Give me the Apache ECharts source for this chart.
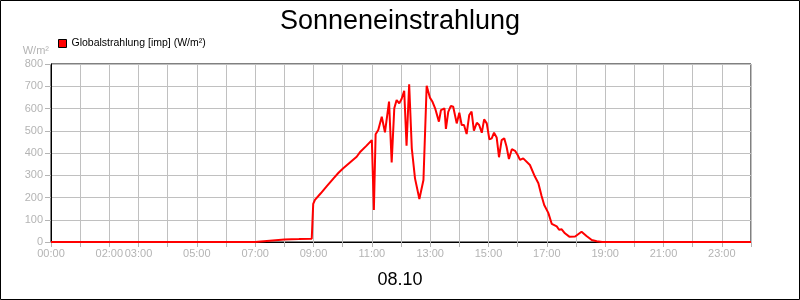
<!DOCTYPE html>
<html>
<head>
<meta charset="utf-8">
<script src="https://cdn.jsdelivr.net/npm/echarts@6/dist/echarts.min.js"></script>
<style>
html,body{margin:0;padding:0;background:#fff;}
#chart{width:800px;height:300px;}
</style>
</head>
<body>
<div id="chart"></div>
<script>
const titleText = 'Sonneneinstrahlung';
const dateText = '08.10';
const seriesName = 'Globalstrahlung [imp] (W/m²)';
const yUnit = 'W/m²';
const labelHours = [0, 2, 3, 5, 7, 9, 11, 13, 15, 17, 19, 21, 23];
const hours = [
  0, 7.0, 7.5, 8.0, 8.5, 8.94, 8.99, 9.05, 9.25, 9.45, 9.68, 9.85, 10.02, 10.25, 10.48, 10.59, 10.82,
  11.0, 11.07, 11.13, 11.22, 11.34, 11.45, 11.5, 11.59, 11.68, 11.77, 11.85, 11.94, 12.02, 12.11,
  12.19, 12.28, 12.37, 12.48, 12.63, 12.77, 12.88, 12.99, 13.08, 13.17, 13.30, 13.37, 13.49, 13.54,
  13.62, 13.71, 13.79, 13.85, 13.91, 14.0, 14.08, 14.16, 14.25, 14.34, 14.42, 14.50, 14.60, 14.68,
  14.77, 14.85, 14.94, 15.03, 15.11, 15.19, 15.28, 15.36, 15.45, 15.54, 15.62, 15.70, 15.80, 15.91,
  16.0, 16.08, 16.19, 16.42, 16.59, 16.71, 16.82, 16.91, 17.05, 17.17, 17.34, 17.42, 17.51, 17.62,
  17.77, 17.97, 18.19, 18.36, 18.54, 18.71, 18.9, 24
];
const values = [
  0, 0, 6, 11, 13, 15, 171, 189, 219, 250, 285, 310, 331, 357, 383, 403, 433,
  458, 144, 484, 503, 563, 493, 496, 631, 358, 601, 638, 623, 643, 680,
  433, 709, 421, 286, 193, 279, 702, 649, 630, 601, 541, 593, 601, 508,
  585, 612, 608, 605, 533, 581, 526, 526, 485, 571, 586, 500, 536, 526,
  491, 551, 533, 461, 466, 491, 470, 381, 458, 466, 428, 373, 417, 410,
  391, 369, 376, 346, 294, 264, 207, 166, 131, 81, 70, 55, 57, 39,
  24, 25, 46, 27, 9, 3, 0, 0
];

const data = hours.map((h, i) => [h, values[i]]);
const pad = n => (n < 10 ? '0' : '') + n;
const font = 'Arial, "Liberation Sans", sans-serif';
const gray = '#b4b4b4';

const chart = echarts.init(document.getElementById('chart'), null, {renderer: 'canvas'});
chart.setOption({
  backgroundColor: '#fff',
  animation: false,
  title: [
    {text: titleText, left: 'center', top: 3,
     textStyle: {fontFamily: font, fontSize: 27, fontWeight: 'normal', color: '#000'}},
    {text: dateText, left: 'center', top: 266,
     textStyle: {fontFamily: font, fontSize: 18, fontWeight: 'normal', color: '#000'}}
  ],
  legend: {
    left: 58, top: 38, padding: 0, itemWidth: 8, itemHeight: 8, itemGap: 4,
    icon: 'rect',
    textStyle: {fontFamily: font, fontSize: 10.5, color: '#000'},
    itemStyle: {borderColor: '#000', borderWidth: 1},
    data: [seriesName]
  },
  grid: {left: 51, right: 49, top: 64, bottom: 58, show: true, borderColor: '#000', borderWidth: 1, backgroundColor: 'transparent'},
  xAxis: {
    type: 'value', min: 0, max: 24, interval: 1,
    axisLine: {lineStyle: {color: '#000', width: 1}},
    axisTick: {show: true, length: 5, lineStyle: {color: gray}},
    axisLabel: {
      margin: 6, color: gray, fontFamily: font, fontSize: 11,
      formatter: v => (labelHours.indexOf(v) >= 0 ? pad(v) + ':00' : '')
    },
    splitLine: {show: true, lineStyle: {color: '#c0c0c0', width: 1}}
  },
  yAxis: {
    type: 'value', min: 0, max: 800, interval: 100,
    name: yUnit, nameLocation: 'end', nameGap: 8,
    nameTextStyle: {color: gray, fontFamily: font, fontSize: 11, align: 'right', padding: [0, 2, 0, 0]},
    axisLine: {show: true, lineStyle: {color: '#000', width: 1}},
    axisTick: {show: true, length: 6, lineStyle: {color: gray}},
    axisLabel: {margin: 8, color: gray, fontFamily: font, fontSize: 11},
    splitLine: {show: true, lineStyle: {color: '#c0c0c0', width: 1}}
  },
  series: [{
    name: seriesName, type: 'line', data: data,
    showSymbol: false, symbol: 'none',
    lineStyle: {color: '#ff0000', width: 2},
    itemStyle: {color: '#ff0000'}
  }],
  graphic: [{
    type: 'rect', silent: true, z: 100,
    shape: {x: 0.5, y: 0.5, width: 799, height: 299},
    style: {fill: 'none', stroke: '#000', lineWidth: 1}
  }]
});
</script>
</body>
</html>
